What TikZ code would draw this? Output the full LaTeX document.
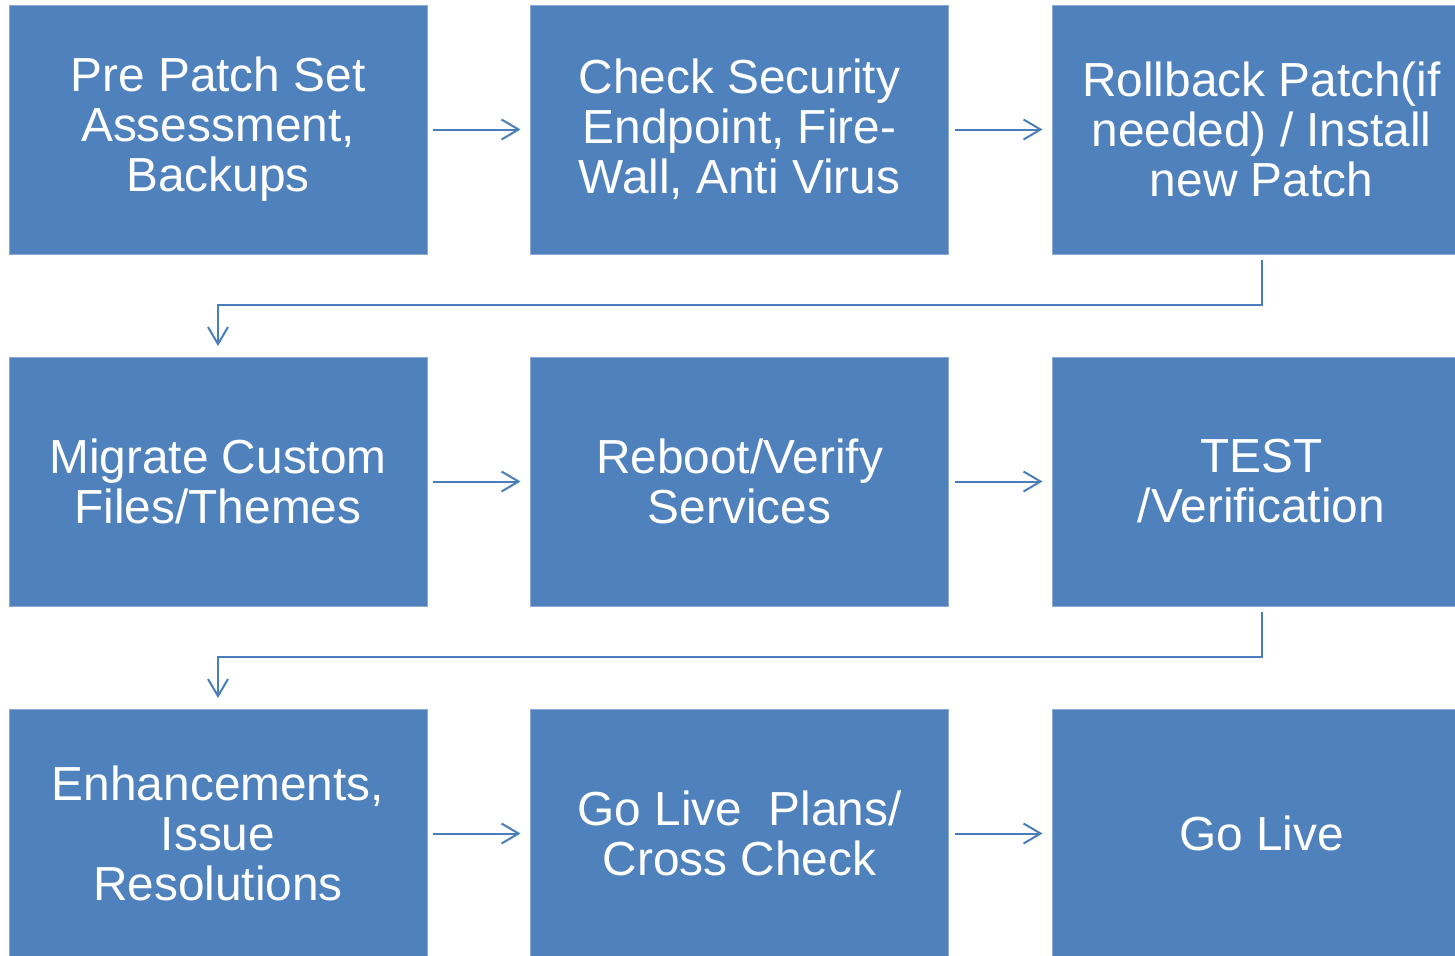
\documentclass[tikz,border=0pt]{standalone}
\usepackage{fontspec}
\setmainfont{Liberation Sans}
\usetikzlibrary{arrows.meta}

\definecolor{boxblue}{RGB}{79,129,189}
\definecolor{boxedge}{RGB}{140,170,214}
\definecolor{linkblue}{RGB}{74,126,187}

\tikzset{
  stepbox/.style={fill=boxblue, draw=boxedge, line width=0.4pt,
    minimum width=209pt, minimum height=124.5pt, inner sep=0pt, outer sep=0pt,
    text=white, align=center, font=\fontsize{23.9pt}{25pt}\selectfont},
  flow/.style={draw=linkblue, line width=1pt,
    -{Straight Barb[length=8.5pt, width=10pt, line width=1pt]}},
}

\begin{document}
\begin{tikzpicture}[x=0.5pt, y=-0.5pt]
                \useasboundingbox (0,0) rectangle (1455,955);
                \clip (0,0) rectangle (1455,955);

                % Draw first row
                \node[stepbox] (prepatch) at (218, 129.5) {Pre Patch Set\\Assessment,\\Backups};
                \node[stepbox] (security) at (739.5, 129.5) {Check Security\\Endpoint, Fire-\\Wall, Anti Virus};
                \node[stepbox] (rollback) at (1261.5, 129.5) {Rollback Patch(if\\needed) / Install\\new Patch};

                % Draw second row
                \node[stepbox] (migrate) at (218, 481.5) {Migrate Custom\\Files/Themes};
                \node[stepbox] (reboot) at (739.5, 481.5) {Reboot/Verify\\Services};
                \node[stepbox] (test) at (1261.5, 481.5) {TEST\\/Verification};

                % Draw third row
                \node[stepbox] (enhance) at (218, 833.5) {Enhancements,\\Issue\\Resolutions};
                \node[stepbox] (plans) at (739.5, 833.5) {Go Live\ \ Plans/\\Cross Check};
                \node[stepbox] (golive) at (1261.5, 833.5) {Go Live};

                % Draw arrows within each row
                \foreach \a/\b in {prepatch/security, security/rollback,
                                   migrate/reboot, reboot/test,
                                   enhance/plans, plans/golive}
                    \draw[flow, shorten <=3pt, shorten >=5pt] (\a) -- (\b);

                % Draw arrows down to the next row
                \draw[flow, shorten <=3pt, shorten >=5.5pt] (rollback.south) -- ++(0,51) -| (migrate.north);
                \draw[flow, shorten <=3pt, shorten >=5.5pt] (test.south) -- ++(0,51) -| (enhance.north);
            \end{tikzpicture}
\end{document}
